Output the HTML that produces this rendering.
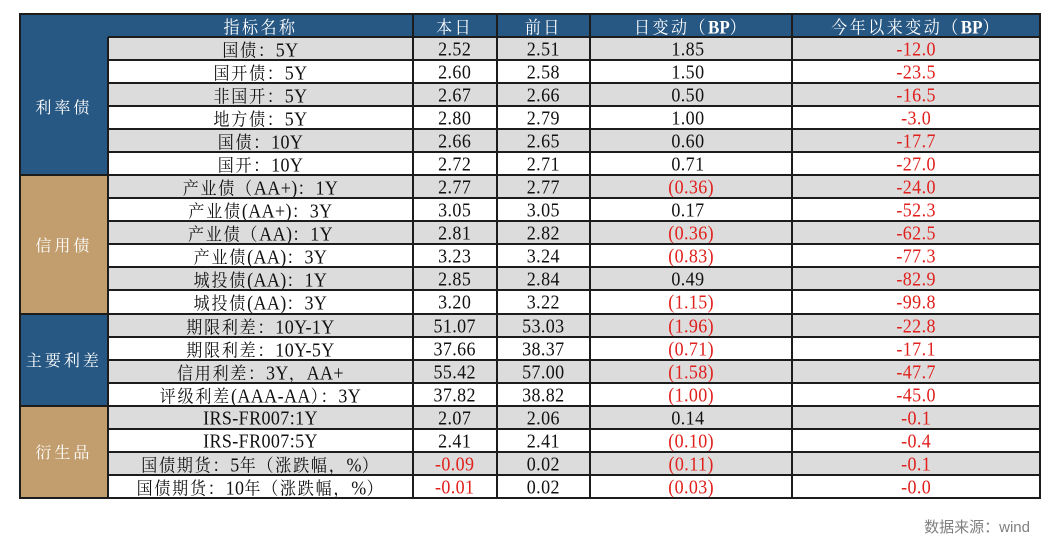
<!DOCTYPE html>
<html>
<head>
<meta charset="utf-8">
<style>
html,body{margin:0;padding:0;background:#fff;}
body{width:1061px;height:547px;position:relative;overflow:hidden;font-family:"Liberation Serif","Noto Serif CJK SC",serif;color:#111;}
.hd{position:absolute;left:19.5px;top:14px;width:1020.5px;height:23.04px;background:#275783;}
.cat{position:absolute;left:19.5px;width:88.8px;display:flex;align-items:center;justify-content:center;color:#fff;font-family:"Noto Serif CJK SC","Liberation Serif",serif;font-size:16px;letter-spacing:3px;}
.blue{background:#275783;}
.tan{background:#c29d6e;}
.r{position:absolute;left:108.3px;width:931.7px;height:23.04px;}
.g{background:#dcdcdc;}
.c{position:absolute;top:0;height:23.04px;line-height:23px;text-align:center;white-space:nowrap;font-size:18px;letter-spacing:0.4px;}
.c1{left:0;width:304.4px;}
.c2{left:304.4px;width:84px;}
.c3{left:388.4px;width:93.3px;}
.c4{left:481.7px;width:202.3px;}
.c5{left:684px;width:247.7px;}
.t{display:inline-block;transform:scaleY(1.1);position:relative;top:1px;}
.z{font-family:"Noto Serif CJK SC","Liberation Serif",serif;font-size:16px;letter-spacing:1.8px;}
.red{color:#e0201c;}
.hx{color:#fff;}
.hx .z{letter-spacing:2.5px;}
.b{font-weight:bold;font-family:"Liberation Serif",serif;font-size:17px;letter-spacing:0;}
.hid{visibility:hidden;}
.v{position:absolute;width:2px;background:#1c1c1c;}
.h{position:absolute;height:2px;background:#1c1c1c;}
.src{position:absolute;right:31px;top:516px;font-family:"Liberation Sans","Noto Sans CJK SC",sans-serif;font-size:15px;color:#808080;}
</style>
</head>
<body>

<!-- header background -->
<div class="hd"></div>

<!-- category blocks -->
<div class="cat blue" style="top:37.04px;height:138.24px;">利率债</div>
<div class="cat tan" style="top:175.28px;height:138.24px;">信用债</div>
<div class="cat blue" style="top:313.52px;height:92.16px;">主要利差</div>
<div class="cat tan" style="top:405.68px;height:92.16px;">衍生品</div>

<!-- header row -->
<div class="r hx" style="top:14px;">
  <div class="c c1"><span class="t"><span class="z">指标名称</span></span></div>
  <div class="c c2"><span class="t"><span class="z">本日</span></span></div>
  <div class="c c3"><span class="t"><span class="z">前日</span></span></div>
  <div class="c c4"><span class="t"><span class="z">日变动（</span><span class="b">BP</span><span class="z">）</span></span></div>
  <div class="c c5"><span class="t"><span class="z">今年以来变动（</span><span class="b">BP</span><span class="z">）</span></span></div>
</div>

<!-- data rows -->
<div class="r g" style="top:37.04px;">
  <div class="c c1"><span class="t"><span class="z">国债：</span>5Y</span></div>
  <div class="c c2"><span class="t">2.52</span></div>
  <div class="c c3"><span class="t">2.51</span></div>
  <div class="c c4"><span class="t">1.85<span class="hid">)</span></span></div>
  <div class="c c5 red"><span class="t">-12.0</span></div>
</div>
<div class="r" style="top:60.08px;">
  <div class="c c1"><span class="t"><span class="z">国开债：</span>5Y</span></div>
  <div class="c c2"><span class="t">2.60</span></div>
  <div class="c c3"><span class="t">2.58</span></div>
  <div class="c c4"><span class="t">1.50<span class="hid">)</span></span></div>
  <div class="c c5 red"><span class="t">-23.5</span></div>
</div>
<div class="r g" style="top:83.12px;">
  <div class="c c1"><span class="t"><span class="z">非国开：</span>5Y</span></div>
  <div class="c c2"><span class="t">2.67</span></div>
  <div class="c c3"><span class="t">2.66</span></div>
  <div class="c c4"><span class="t">0.50<span class="hid">)</span></span></div>
  <div class="c c5 red"><span class="t">-16.5</span></div>
</div>
<div class="r" style="top:106.16px;">
  <div class="c c1"><span class="t"><span class="z">地方债：</span>5Y</span></div>
  <div class="c c2"><span class="t">2.80</span></div>
  <div class="c c3"><span class="t">2.79</span></div>
  <div class="c c4"><span class="t">1.00<span class="hid">)</span></span></div>
  <div class="c c5 red"><span class="t">-3.0</span></div>
</div>
<div class="r g" style="top:129.2px;">
  <div class="c c1"><span class="t"><span class="z">国债：</span>10Y</span></div>
  <div class="c c2"><span class="t">2.66</span></div>
  <div class="c c3"><span class="t">2.65</span></div>
  <div class="c c4"><span class="t">0.60<span class="hid">)</span></span></div>
  <div class="c c5 red"><span class="t">-17.7</span></div>
</div>
<div class="r" style="top:152.24px;">
  <div class="c c1"><span class="t"><span class="z">国开：</span>10Y</span></div>
  <div class="c c2"><span class="t">2.72</span></div>
  <div class="c c3"><span class="t">2.71</span></div>
  <div class="c c4"><span class="t">0.71<span class="hid">)</span></span></div>
  <div class="c c5 red"><span class="t">-27.0</span></div>
</div>
<div class="r g" style="top:175.28px;">
  <div class="c c1"><span class="t"><span class="z">产业债（</span>AA+)<span class="z">：</span>1Y</span></div>
  <div class="c c2"><span class="t">2.77</span></div>
  <div class="c c3"><span class="t">2.77</span></div>
  <div class="c c4 red"><span class="t">(0.36)</span></div>
  <div class="c c5 red"><span class="t">-24.0</span></div>
</div>
<div class="r" style="top:198.32px;">
  <div class="c c1"><span class="t"><span class="z">产业债</span>(AA+)<span class="z">：</span>3Y</span></div>
  <div class="c c2"><span class="t">3.05</span></div>
  <div class="c c3"><span class="t">3.05</span></div>
  <div class="c c4"><span class="t">0.17<span class="hid">)</span></span></div>
  <div class="c c5 red"><span class="t">-52.3</span></div>
</div>
<div class="r g" style="top:221.36px;">
  <div class="c c1"><span class="t"><span class="z">产业债（</span>AA)<span class="z">：</span>1Y</span></div>
  <div class="c c2"><span class="t">2.81</span></div>
  <div class="c c3"><span class="t">2.82</span></div>
  <div class="c c4 red"><span class="t">(0.36)</span></div>
  <div class="c c5 red"><span class="t">-62.5</span></div>
</div>
<div class="r" style="top:244.4px;">
  <div class="c c1"><span class="t"><span class="z">产业债</span>(AA)<span class="z">：</span>3Y</span></div>
  <div class="c c2"><span class="t">3.23</span></div>
  <div class="c c3"><span class="t">3.24</span></div>
  <div class="c c4 red"><span class="t">(0.83)</span></div>
  <div class="c c5 red"><span class="t">-77.3</span></div>
</div>
<div class="r g" style="top:267.44px;">
  <div class="c c1"><span class="t"><span class="z">城投债</span>(AA)<span class="z">：</span>1Y</span></div>
  <div class="c c2"><span class="t">2.85</span></div>
  <div class="c c3"><span class="t">2.84</span></div>
  <div class="c c4"><span class="t">0.49<span class="hid">)</span></span></div>
  <div class="c c5 red"><span class="t">-82.9</span></div>
</div>
<div class="r" style="top:290.48px;">
  <div class="c c1"><span class="t"><span class="z">城投债</span>(AA)<span class="z">：</span>3Y</span></div>
  <div class="c c2"><span class="t">3.20</span></div>
  <div class="c c3"><span class="t">3.22</span></div>
  <div class="c c4 red"><span class="t">(1.15)</span></div>
  <div class="c c5 red"><span class="t">-99.8</span></div>
</div>
<div class="r g" style="top:313.52px;">
  <div class="c c1"><span class="t"><span class="z">期限利差：</span>10Y-1Y</span></div>
  <div class="c c2"><span class="t">51.07</span></div>
  <div class="c c3"><span class="t">53.03</span></div>
  <div class="c c4 red"><span class="t">(1.96)</span></div>
  <div class="c c5 red"><span class="t">-22.8</span></div>
</div>
<div class="r" style="top:336.56px;">
  <div class="c c1"><span class="t"><span class="z">期限利差：</span>10Y-5Y</span></div>
  <div class="c c2"><span class="t">37.66</span></div>
  <div class="c c3"><span class="t">38.37</span></div>
  <div class="c c4 red"><span class="t">(0.71)</span></div>
  <div class="c c5 red"><span class="t">-17.1</span></div>
</div>
<div class="r g" style="top:359.6px;">
  <div class="c c1"><span class="t"><span class="z">信用利差：</span>3Y<span class="z">，</span>AA+</span></div>
  <div class="c c2"><span class="t">55.42</span></div>
  <div class="c c3"><span class="t">57.00</span></div>
  <div class="c c4 red"><span class="t">(1.58)</span></div>
  <div class="c c5 red"><span class="t">-47.7</span></div>
</div>
<div class="r" style="top:382.64px;">
  <div class="c c1"><span class="t"><span class="z">评级利差</span>(AAA-AA<span class="z">）：</span>3Y</span></div>
  <div class="c c2"><span class="t">37.82</span></div>
  <div class="c c3"><span class="t">38.82</span></div>
  <div class="c c4 red"><span class="t">(1.00)</span></div>
  <div class="c c5 red"><span class="t">-45.0</span></div>
</div>
<div class="r g" style="top:405.68px;">
  <div class="c c1"><span class="t">IRS-FR007:1Y</span></div>
  <div class="c c2"><span class="t">2.07</span></div>
  <div class="c c3"><span class="t">2.06</span></div>
  <div class="c c4"><span class="t">0.14<span class="hid">)</span></span></div>
  <div class="c c5 red"><span class="t">-0.1</span></div>
</div>
<div class="r" style="top:428.72px;">
  <div class="c c1"><span class="t">IRS-FR007:5Y</span></div>
  <div class="c c2"><span class="t">2.41</span></div>
  <div class="c c3"><span class="t">2.41</span></div>
  <div class="c c4 red"><span class="t">(0.10)</span></div>
  <div class="c c5 red"><span class="t">-0.4</span></div>
</div>
<div class="r g" style="top:451.76px;">
  <div class="c c1"><span class="t"><span class="z">国债期货：</span>5<span class="z">年（涨跌幅，</span>%<span class="z">）</span></span></div>
  <div class="c c2 red"><span class="t">-0.09</span></div>
  <div class="c c3"><span class="t">0.02</span></div>
  <div class="c c4 red"><span class="t">(0.11)</span></div>
  <div class="c c5 red"><span class="t">-0.1</span></div>
</div>
<div class="r" style="top:474.8px;">
  <div class="c c1"><span class="t"><span class="z">国债期货：</span>10<span class="z">年（涨跌幅，</span>%<span class="z">）</span></span></div>
  <div class="c c2 red"><span class="t">-0.01</span></div>
  <div class="c c3"><span class="t">0.02</span></div>
  <div class="c c4 red"><span class="t">(0.03)</span></div>
  <div class="c c5 red"><span class="t">-0.0</span></div>
</div>

<!-- vertical lines -->
<div class="v" style="left:18.5px;top:13px;height:485.84px;"></div>
<div class="v" style="left:107.3px;top:37.04px;height:460.8px;"></div>
<div class="v" style="left:411.7px;top:13px;height:485.84px;"></div>
<div class="v" style="left:495.7px;top:13px;height:485.84px;"></div>
<div class="v" style="left:589px;top:13px;height:485.84px;"></div>
<div class="v" style="left:791.3px;top:13px;height:485.84px;"></div>
<div class="v" style="left:1039px;top:13px;height:485.84px;"></div>

<!-- horizontal lines -->
<div class="h" style="left:18.5px;width:1022.5px;top:13px;"></div>
<div class="h" style="left:108.3px;width:931.7px;top:36.04px;"></div>
<div class="h" style="left:108.3px;width:931.7px;top:59.08px;"></div>
<div class="h" style="left:108.3px;width:931.7px;top:82.12px;"></div>
<div class="h" style="left:108.3px;width:931.7px;top:105.16px;"></div>
<div class="h" style="left:108.3px;width:931.7px;top:128.2px;"></div>
<div class="h" style="left:108.3px;width:931.7px;top:151.24px;"></div>
<div class="h" style="left:18.5px;width:1022.5px;top:174.28px;"></div>
<div class="h" style="left:108.3px;width:931.7px;top:197.32px;"></div>
<div class="h" style="left:108.3px;width:931.7px;top:220.36px;"></div>
<div class="h" style="left:108.3px;width:931.7px;top:243.4px;"></div>
<div class="h" style="left:108.3px;width:931.7px;top:266.44px;"></div>
<div class="h" style="left:108.3px;width:931.7px;top:289.48px;"></div>
<div class="h" style="left:18.5px;width:1022.5px;top:312.52px;"></div>
<div class="h" style="left:108.3px;width:931.7px;top:335.56px;"></div>
<div class="h" style="left:108.3px;width:931.7px;top:358.6px;"></div>
<div class="h" style="left:108.3px;width:931.7px;top:381.64px;"></div>
<div class="h" style="left:18.5px;width:1022.5px;top:404.68px;"></div>
<div class="h" style="left:108.3px;width:931.7px;top:427.72px;"></div>
<div class="h" style="left:108.3px;width:931.7px;top:450.76px;"></div>
<div class="h" style="left:108.3px;width:931.7px;top:473.8px;"></div>
<div class="h" style="left:18.5px;width:1022.5px;top:496.84px;"></div>

<div class="src">数据来源：wind</div>

</body>
</html>
